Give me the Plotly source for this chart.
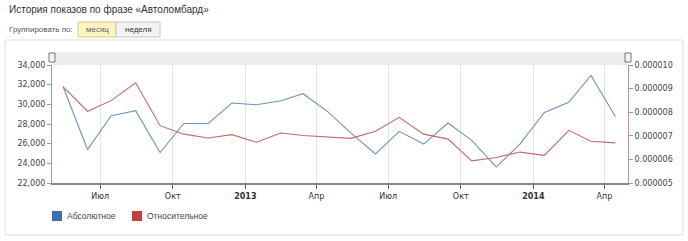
import plotly.graph_objects as go

months = ["2012-05-15", "2012-06-15", "2012-07-15", "2012-08-15", "2012-09-15", "2012-10-15",
          "2012-11-15", "2012-12-15", "2013-01-15", "2013-02-15", "2013-03-15", "2013-04-15",
          "2013-05-15", "2013-06-15", "2013-07-15", "2013-08-15", "2013-09-15", "2013-10-15",
          "2013-11-15", "2013-12-15", "2014-01-15", "2014-02-15", "2014-03-15", "2014-04-15"]
absolute = [31820, 25400, 28850, 29350, 25100, 28050, 28050, 30130, 29960, 30370, 31080, 29280,
            27080, 24950, 27250, 25960, 28100, 26330, 23620, 25960, 29180, 30200, 32940, 28770]
relative = [9.08e-6, 8.04e-6, 8.49e-6, 9.25e-6, 7.43e-6, 7.07e-6, 6.91e-6, 7.05e-6, 6.73e-6, 7.12e-6,
            7.01e-6, 6.94e-6, 6.89e-6, 7.19e-6, 7.78e-6, 7.07e-6, 6.86e-6, 5.94e-6, 6.08e-6, 6.31e-6,
            6.17e-6, 7.23e-6, 6.77e-6, 6.70e-6]
tick_dates = ["2012-07-01", "2012-10-01", "2013-01-01", "2013-04-01", "2013-07-01", "2013-10-01",
              "2014-01-01", "2014-04-01"]
tick_labels = ["Июл", "Окт", "<b>2013</b>", "Апр", "Июл", "Окт", "<b>2014</b>", "Апр"]
series_names = ["Абсолютное", "Относительное"]
line_colors = ["#7093c2", "#c46a68"]
legend_colors = ["#3f6fb3", "#c0403d"]

W, H = 688, 241
L, R, T, B = 52, 60, 65, 58
pw, ph = W - L - R, H - T - B


def px(x):
    return (x - L) / pw


def py(y):
    return (H - B - y) / ph


fig = go.Figure()
fig.add_trace(go.Scatter(x=months, y=absolute, mode="lines", name=series_names[0],
                         line=dict(color=line_colors[0], width=1.1), showlegend=False))
fig.add_trace(go.Scatter(x=months, y=relative, mode="lines", name=series_names[1], yaxis="y2",
                         line=dict(color=line_colors[1], width=1.1), showlegend=False))

font = "DejaVu Sans"
shapes = [
    # panel
    dict(type="rect", xref="paper", yref="paper", x0=px(5), x1=px(683), y0=py(235), y1=py(40),
         line=dict(color="#dcdcdc", width=1), fillcolor="rgba(0,0,0,0)", layer="below"),
    # navigator band
    dict(type="rect", xref="paper", yref="paper", x0=0, x1=1, y0=1, y1=py(52),
         line=dict(width=0), fillcolor="#ececec", layer="below"),
    # handles
    dict(type="rect", xref="paper", yref="paper", x0=px(49), x1=px(55), y0=py(62), y1=py(53),
         line=dict(color="#777", width=1), fillcolor="#f4f4f4"),
    dict(type="rect", xref="paper", yref="paper", x0=px(625), x1=px(631), y0=py(62), y1=py(53),
         line=dict(color="#777", width=1), fillcolor="#f4f4f4"),
    # buttons
    dict(type="rect", xref="paper", yref="paper", x0=px(78), x1=px(116), y0=py(37), y1=py(22),
         line=dict(color="#d8c98e", width=1), fillcolor="#fff3c2"),
    dict(type="rect", xref="paper", yref="paper", x0=px(116), x1=px(160), y0=py(37), y1=py(22),
         line=dict(color="#c4c4c4", width=1), fillcolor="#f3f3f3"),
]
annotations = [
    dict(text="История показов по фразе «Автоломбард»", xref="paper", yref="paper", x=px(7), y=py(10),
         xanchor="left", yanchor="middle", showarrow=False,
         font=dict(family="Liberation Sans", size=10, color="#333")),
    dict(text="Группировать по:", xref="paper", yref="paper", x=px(7), y=py(30),
         xanchor="left", yanchor="middle", showarrow=False,
         font=dict(family="Liberation Sans", size=8, color="#555")),
    dict(text="месяц", xref="paper", yref="paper", x=px(97), y=py(30),
         xanchor="center", yanchor="middle", showarrow=False,
         font=dict(family="Liberation Sans", size=8, color="#666")),
    dict(text="неделя", xref="paper", yref="paper", x=px(138), y=py(30),
         xanchor="center", yanchor="middle", showarrow=False,
         font=dict(family="Liberation Sans", size=8, color="#333")),
]
# legend (squares + labels)
legend_x = [52, 132]
for lx, name, col in zip(legend_x, series_names, legend_colors):
    shapes.append(dict(type="rect", xref="paper", yref="paper", x0=px(lx), x1=px(lx + 10),
                       y0=py(221), y1=py(211), line=dict(width=0), fillcolor=col))
    annotations.append(dict(text=name, xref="paper", yref="paper", x=px(lx + 13), y=py(216),
                            xanchor="left", yanchor="middle", showarrow=False,
                            font=dict(family="Liberation Sans", size=8.5, color="#444")))

fig.update_layout(
    width=W, height=H, margin=dict(l=L, r=R, t=T, b=B),
    paper_bgcolor="white", plot_bgcolor="white",
    font=dict(family=font, size=8, color="#444"),
    shapes=shapes, annotations=annotations, showlegend=False,
    xaxis=dict(type="date", range=["2012-05-01", "2014-05-01"], tickvals=tick_dates, ticktext=tick_labels,
               showgrid=True, gridcolor="#e2e2e2", gridwidth=1, ticks="outside", ticklen=4,
               tickcolor="#555", showline=True, linecolor="#888", linewidth=2,
               tickfont=dict(family=font, size=8, color="#333"), zeroline=False, fixedrange=True),
    yaxis=dict(range=[22000, 34000], dtick=2000, tickformat=",d", showgrid=False, ticks="outside",
               ticklen=4, tickcolor="#8aa0c0", showline=True, linecolor="#8aa0c0", linewidth=1,
               tickfont=dict(family=font, size=8, color="#444"), zeroline=False),
    yaxis2=dict(range=[5e-6, 1e-5], dtick=1e-6, tickformat=".6f", overlaying="y", side="right",
                showgrid=False, ticks="outside", ticklen=4, tickcolor="#d08a8a", showline=True,
                linecolor="#d08a8a", linewidth=1, tickfont=dict(family=font, size=8, color="#444"),
                zeroline=False),
)

fig.write_html("out.html")
